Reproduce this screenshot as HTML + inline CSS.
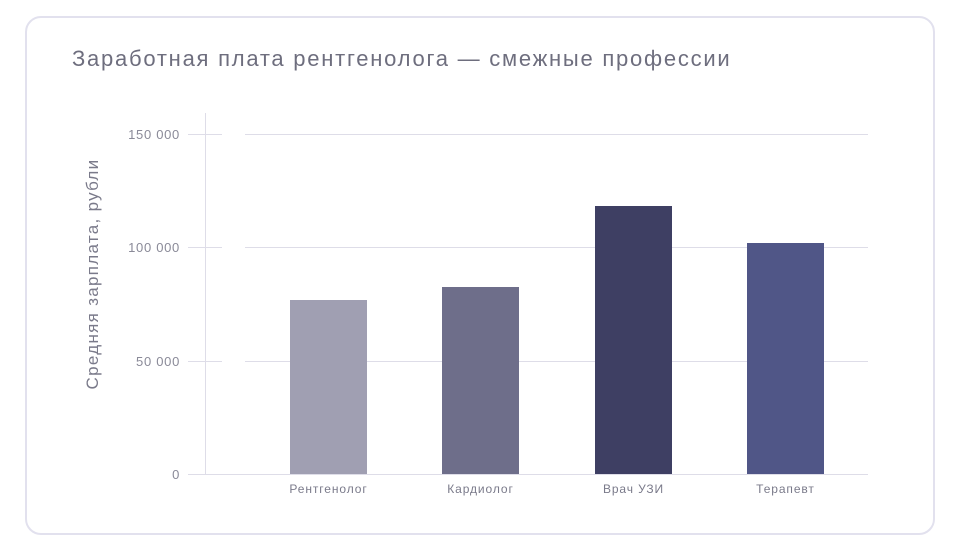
<!DOCTYPE html>
<html><head><meta charset="utf-8"><style>
body{margin:0;width:961px;height:550px;background:#fff;overflow:hidden;font-family:"Liberation Sans",sans-serif}
.card{position:absolute;left:25px;top:16px;width:910px;height:519px;border:2px solid #e2e1ee;border-radius:16px;box-sizing:border-box}
</style></head><body>
<div class="card"></div>
<svg width="961" height="550" style="position:absolute;left:0;top:0" font-family="Liberation Sans, sans-serif">
<text x="72" y="66" font-size="22" letter-spacing="1.75" fill="#6e6e7e">Заработная плата рентгенолога — смежные профессии</text>
<g stroke="#dedde8" stroke-width="1">
<line x1="205.5" y1="113" x2="205.5" y2="474"/>
<line x1="188" y1="134.5" x2="222" y2="134.5"/><line x1="245" y1="134.5" x2="868" y2="134.5"/>
<line x1="188" y1="247.5" x2="222" y2="247.5"/><line x1="245" y1="247.5" x2="868" y2="247.5"/>
<line x1="188" y1="361.5" x2="222" y2="361.5"/><line x1="245" y1="361.5" x2="868" y2="361.5"/>
<line x1="188" y1="474.5" x2="868" y2="474.5"/>
</g>
<g font-size="13" fill="#8a8a98" text-anchor="end" letter-spacing="0.7">
<text x="180" y="139">150 000</text><text x="180" y="252">100 000</text><text x="180" y="366">50 000</text><text x="180" y="479">0</text>
</g>
<text transform="translate(98,274) rotate(-90)" font-size="17" letter-spacing="1.3" fill="#7a7a8a" text-anchor="middle">Средняя зарплата, рубли</text>
<rect x="290" y="300" width="77" height="174" fill="#a09fb2"/>
<rect x="442" y="287" width="77" height="187" fill="#6e6e8a"/>
<rect x="595" y="206" width="77" height="268" fill="#3e3f63"/>
<rect x="747" y="243" width="77" height="231" fill="#505687"/>
<g font-size="12" fill="#7a7a8a" text-anchor="middle" letter-spacing="0.9">
<text x="328.5" y="493">Рентгенолог</text><text x="480.5" y="493">Кардиолог</text><text x="633.5" y="493">Врач УЗИ</text><text x="785.5" y="493">Терапевт</text>
</g>
</svg>
</body></html>
